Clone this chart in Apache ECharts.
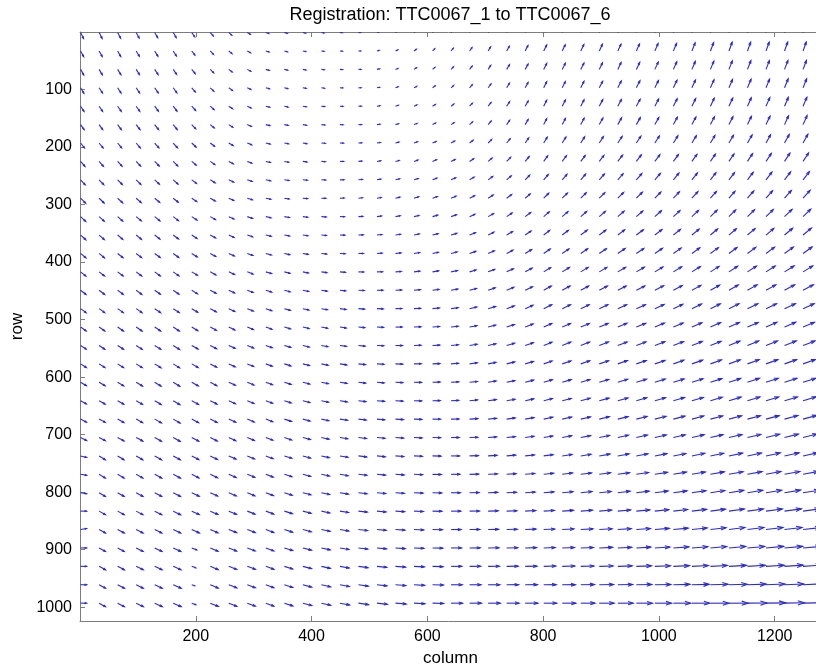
<!DOCTYPE html>
<html><head><meta charset="utf-8">
<script src="https://cdn.jsdelivr.net/npm/echarts@6/dist/echarts.min.js"></script>
<style>html,body{margin:0;padding:0;background:#fff}#c{width:816px;height:665px}</style>
</head><body><div id="c"></div>
<script>
const titleText = 'Registration: TTC0067_1 to TTC0067_6';
const xName = 'column';
const yName = 'row';
const colPositions = [1,33,65,97,129,161,193,225,257,289,321,353,385,417,449,481,513,545,577,609,641,673,705,737,769,801,833,865,897,929,961,993,1025,1057,1089,1121,1153,1185,1217,1249];
const rowPositions = [1,33,65,97,129,161,193,225,257,289,321,353,385,417,449,481,513,545,577,609,641,673,705,737,769,801,833,865,897,929,961,993];
const xTicks = [200,400,600,800,1000,1200];
const yTicks = [100,200,300,400,500,600,700,800,900,1000];
// displacement along columns (u), one row of the grid per line
const uRows = [
[3,3,3,3,3,3,3,3,3,3,3,2.8,2.6,2.4,2.2,2,2,2,2,2,2,2.2,2.4,2.6,2.8,3,3,3,3,3,3,3,3,3,3,3,3,3,3,3],
[3.1,3.1,3.1,3.2,3.2,3.2,3.2,3.2,3.2,3.2,3.2,3,2.8,2.6,2.4,2.2,2.2,2.2,2.2,2.2,2.2,2.4,2.5,2.7,2.8,3,3,3.1,3.1,3.2,3.2,3.2,3.2,3.2,3.2,3.2,3.2,3.2,3.2,3.2],
[3.2,3.2,3.3,3.3,3.4,3.4,3.4,3.4,3.4,3.4,3.4,3.2,3,2.8,2.6,2.4,2.4,2.4,2.4,2.4,2.4,2.5,2.6,2.8,2.9,3,3.1,3.2,3.2,3.3,3.4,3.4,3.4,3.4,3.4,3.4,3.4,3.4,3.4,3.4],
[3.3,3.4,3.4,3.5,3.5,3.6,3.6,3.6,3.6,3.6,3.6,3.4,3.2,3,2.8,2.6,2.6,2.6,2.6,2.6,2.6,2.7,2.8,2.8,2.9,3,3.1,3.2,3.4,3.5,3.6,3.6,3.6,3.6,3.6,3.6,3.6,3.6,3.6,3.6],
[3.4,3.5,3.6,3.6,3.7,3.8,3.8,3.8,3.8,3.8,3.8,3.6,3.4,3.2,3,2.8,2.8,2.8,2.8,2.8,2.8,2.8,2.9,2.9,3,3,3.2,3.3,3.5,3.6,3.8,3.8,3.8,3.8,3.8,3.8,3.8,3.8,3.8,3.8],
[3.5,3.6,3.7,3.8,3.9,4,4,4,4,4,4,3.8,3.6,3.4,3.2,3,3,3,3,3,3,3,3,3,3,3,3.2,3.4,3.6,3.8,4,4,4,4,4,4,4,4,4,4],
[3.9,4,4,4.1,4.2,4.3,4.3,4.3,4.3,4.3,4.3,4.1,3.9,3.7,3.5,3.3,3.3,3.4,3.4,3.5,3.5,3.5,3.5,3.5,3.5,3.5,3.7,3.9,4.1,4.3,4.5,4.5,4.5,4.5,4.5,4.5,4.6,4.6,4.7,4.8],
[4.3,4.3,4.4,4.4,4.5,4.5,4.5,4.5,4.5,4.5,4.5,4.3,4.1,3.9,3.7,3.5,3.6,3.7,3.8,3.9,4,4,4,4,4,4,4.2,4.4,4.6,4.8,5,5,5,5,5,5,5.1,5.3,5.4,5.5],
[4.6,4.6,4.7,4.7,4.7,4.8,4.8,4.8,4.8,4.8,4.8,4.6,4.4,4.2,4,3.8,3.9,4.1,4.2,4.4,4.5,4.5,4.5,4.5,4.5,4.5,4.7,4.9,5.1,5.3,5.5,5.5,5.5,5.5,5.5,5.5,5.7,5.9,6.1,6.3],
[5,5,5,5,5,5,5,5,5,5,5,4.8,4.6,4.4,4.2,4,4.2,4.4,4.6,4.8,5,5,5,5,5,5,5.2,5.4,5.6,5.8,6,6,6,6,6,6,6.3,6.5,6.8,7],
[5.1,5.1,5.1,5.2,5.2,5.2,5.2,5.2,5.2,5.2,5.2,5,4.8,4.7,4.5,4.3,4.5,4.7,4.9,5.1,5.3,5.3,5.4,5.4,5.5,5.5,5.7,5.9,6.1,6.3,6.5,6.5,6.6,6.6,6.7,6.7,7,7.2,7.5,7.7],
[5.2,5.2,5.2,5.3,5.3,5.3,5.3,5.3,5.3,5.3,5.3,5.2,5.1,4.9,4.8,4.7,4.9,5.1,5.3,5.5,5.7,5.8,5.8,5.9,5.9,6,6.2,6.4,6.6,6.8,7,7.1,7.1,7.2,7.2,7.3,7.6,7.8,8.1,8.3],
[5.3,5.3,5.4,5.4,5.5,5.5,5.5,5.5,5.5,5.5,5.5,5.4,5.3,5.2,5.1,5,5.2,5.4,5.6,5.8,6,6.1,6.2,6.3,6.4,6.5,6.7,6.9,7.1,7.3,7.5,7.6,7.7,7.8,7.9,8,8.3,8.5,8.8,9],
[5.3,5.4,5.5,5.5,5.6,5.7,5.7,5.7,5.7,5.7,5.7,5.6,5.5,5.5,5.4,5.3,5.5,5.7,5.9,6.1,6.3,6.4,6.6,6.7,6.9,7,7.2,7.4,7.6,7.8,8,8.1,8.3,8.4,8.6,8.7,9,9.2,9.5,9.7],
[5.4,5.5,5.6,5.6,5.7,5.8,5.8,5.8,5.8,5.8,5.8,5.8,5.8,5.7,5.7,5.7,5.9,6.1,6.3,6.5,6.7,6.9,7,7.2,7.3,7.5,7.7,7.9,8.1,8.3,8.5,8.7,8.8,9,9.1,9.3,9.6,9.8,10.1,10.3],
[5.5,5.6,5.7,5.8,5.9,6,6,6,6,6,6,6,6,6,6,6,6.2,6.4,6.6,6.8,7,7.2,7.4,7.6,7.8,8,8.2,8.4,8.6,8.8,9,9.2,9.4,9.6,9.8,10,10.3,10.5,10.8,11],
[5.6,5.7,5.8,5.9,6,6.1,6.1,6.1,6.1,6.1,6.1,6.1,6.2,6.2,6.3,6.3,6.5,6.6,6.8,6.9,7.1,7.3,7.5,7.7,7.9,8.1,8.3,8.6,8.8,9.1,9.3,9.5,9.7,9.9,10.2,10.4,10.7,10.9,11.2,11.4],
[5.6,5.7,5.9,6,6.2,6.3,6.3,6.3,6.3,6.3,6.3,6.4,6.4,6.5,6.5,6.6,6.7,6.9,7,7.2,7.3,7.5,7.7,7.9,8.1,8.3,8.6,8.8,9.1,9.3,9.6,9.9,10.1,10.4,10.6,10.9,11.2,11.4,11.7,11.9],
[5.7,5.8,6,6.1,6.3,6.4,6.4,6.4,6.4,6.4,6.4,6.5,6.6,6.7,6.8,6.9,7,7.1,7.2,7.3,7.4,7.6,7.8,8,8.2,8.4,8.7,9,9.3,9.6,9.9,10.2,10.5,10.7,11,11.3,11.6,11.8,12.1,12.3],
[5.8,6,6.1,6.3,6.4,6.6,6.6,6.6,6.6,6.6,6.6,6.7,6.8,6.9,7,7.1,7.2,7.3,7.4,7.5,7.6,7.8,8,8.2,8.4,8.6,8.9,9.2,9.5,9.8,10.1,10.4,10.7,11.1,11.4,11.7,12,12.2,12.5,12.7],
[5.8,6,6.2,6.3,6.5,6.7,6.7,6.7,6.7,6.7,6.7,6.8,7,7.1,7.3,7.4,7.5,7.5,7.6,7.6,7.7,7.9,8.1,8.3,8.5,8.7,9,9.4,9.7,10.1,10.4,10.7,11.1,11.4,11.8,12.1,12.4,12.6,12.9,13.1],
[5.9,6.1,6.3,6.5,6.7,6.9,6.9,6.9,6.9,6.9,6.9,7.1,7.2,7.4,7.5,7.7,7.7,7.8,7.8,7.9,7.9,8.1,8.3,8.5,8.7,8.9,9.3,9.6,10,10.3,10.7,11.1,11.5,11.8,12.2,12.6,12.9,13.1,13.4,13.6],
[6,6.2,6.4,6.6,6.8,7,7,7,7,7,7,7.2,7.4,7.6,7.8,8,8,8,8,8,8,8.2,8.4,8.6,8.8,9,9.4,9.8,10.2,10.6,11,11.4,11.8,12.2,12.6,13,13.3,13.5,13.8,14],
[6,6.2,6.4,6.7,6.9,7.1,7.1,7.1,7.2,7.2,7.2,7.4,7.6,7.8,8,8.2,8.2,8.3,8.3,8.4,8.4,8.6,8.8,9,9.2,9.4,9.8,10.3,10.7,11.2,11.6,12,12.4,12.8,13.2,13.6,13.9,14.2,14.5,14.8],
[6,6.2,6.5,6.7,7,7.2,7.2,7.3,7.3,7.4,7.4,7.6,7.8,8,8.2,8.4,8.5,8.6,8.6,8.7,8.8,9,9.2,9.4,9.6,9.8,10.3,10.8,11.2,11.7,12.2,12.6,13,13.4,13.8,14.2,14.6,14.9,15.3,15.6],
[6,6.3,6.5,6.8,7,7.3,7.4,7.4,7.5,7.5,7.6,7.8,8,8.2,8.4,8.6,8.7,8.8,9,9.1,9.2,9.4,9.6,9.8,10,10.2,10.7,11.2,11.8,12.3,12.8,13.2,13.6,14,14.4,14.8,15.2,15.6,16,16.4],
[6,6.3,6.6,6.8,7.1,7.4,7.5,7.6,7.6,7.7,7.8,8,8.2,8.4,8.6,8.8,9,9.1,9.3,9.4,9.6,9.8,10,10.2,10.4,10.6,11.2,11.7,12.3,12.8,13.4,13.8,14.2,14.6,15,15.4,15.9,16.3,16.8,17.2],
[6,6.3,6.6,6.9,7.2,7.5,7.6,7.7,7.8,7.9,8,8.2,8.4,8.6,8.8,9,9.2,9.4,9.6,9.8,10,10.2,10.4,10.6,10.8,11,11.6,12.2,12.8,13.4,14,14.4,14.8,15.2,15.6,16,16.5,17,17.5,18],
[6,6.3,6.6,7,7.3,7.6,5,7.8,7.8,7.9,8,8.3,8.5,8.8,9,9.3,9.5,9.7,9.9,10.2,10.4,10.6,10.8,11.1,11.3,11.5,12.1,12.7,13.3,13.9,14.5,15,15.4,15.9,16.3,16.8,17.2,17.6,18.1,18.5],
[6,6.4,6.7,7.1,7.4,7.8,4,7.9,7.9,8,8,8.3,8.6,8.9,9.2,9.5,9.8,10,10.3,10.5,10.8,11,11.3,11.5,11.8,12,12.6,13.2,13.8,14.4,15,15.5,16,16.5,17,17.5,17.9,18.3,18.6,19],
[6,6.4,6.8,7.1,7.5,7.9,3,8,8,8,8,8.4,8.7,9.1,9.4,9.8,10,10.3,10.6,10.8,11.1,11.4,11.7,11.9,12.2,12.5,13.1,13.7,14.3,14.9,15.5,16.1,16.6,17.2,17.7,18.3,18.6,18.9,19.2,19.5],
[6,6.4,6.8,7.2,7.6,8,4,8,8,8,8,8.4,8.8,9.2,9.6,10,10.3,10.6,10.9,11.2,11.5,11.8,12.1,12.4,12.7,13,13.6,14.2,14.8,15.4,16,16.6,17.2,17.8,18.4,19,19.3,19.5,19.8,20]
];
// displacement along rows (v), one row of the grid per line
const vRows = [
[6,5.8,5.6,5.4,5.2,5,4.2,3.4,2.6,1.8,1,0.8,0.6,0.4,0.2,0,-0.6,-1.2,-1.8,-2.4,-3,-3.6,-4.2,-4.8,-5.4,-6,-6.2,-6.4,-6.6,-6.8,-7,-7.4,-7.8,-8.2,-8.6,-9,-9,-9,-9,-9],
[5.8,5.6,5.5,5.3,5.2,5,4.2,3.4,2.6,1.8,1,0.8,0.6,0.4,0.2,0,-0.6,-1.1,-1.7,-2.2,-2.8,-3.4,-4.1,-4.7,-5.4,-6,-6.2,-6.4,-6.6,-6.8,-7,-7.4,-7.7,-8.1,-8.4,-8.8,-8.9,-8.9,-9,-9],
[5.6,5.5,5.4,5.2,5.1,5,4.2,3.4,2.6,1.8,1,0.8,0.6,0.4,0.2,0,-0.5,-1,-1.6,-2.1,-2.6,-3.3,-4,-4.6,-5.3,-6,-6.2,-6.4,-6.6,-6.8,-7,-7.3,-7.6,-8,-8.3,-8.6,-8.7,-8.8,-8.9,-9],
[5.4,5.3,5.2,5.2,5.1,5,4.2,3.4,2.6,1.8,1,0.8,0.6,0.4,0.2,0,-0.5,-1,-1.4,-1.9,-2.4,-3.1,-3.8,-4.6,-5.3,-6,-6.2,-6.4,-6.6,-6.8,-7,-7.3,-7.6,-7.8,-8.1,-8.4,-8.6,-8.7,-8.9,-9],
[5.2,5.2,5.1,5.1,5,5,4.2,3.4,2.6,1.8,1,0.8,0.6,0.4,0.2,0,-0.4,-0.9,-1.3,-1.8,-2.2,-3,-3.7,-4.5,-5.2,-6,-6.2,-6.4,-6.6,-6.8,-7,-7.2,-7.5,-7.7,-8,-8.2,-8.4,-8.6,-8.8,-9],
[5,5,5,5,5,5,4.2,3.4,2.6,1.8,1,0.8,0.6,0.4,0.2,0,-0.4,-0.8,-1.2,-1.6,-2,-2.8,-3.6,-4.4,-5.2,-6,-6.2,-6.4,-6.6,-6.8,-7,-7.2,-7.4,-7.6,-7.8,-8,-8.3,-8.5,-8.8,-9],
[5,5,4.9,4.9,4.8,4.8,4,3.3,2.5,1.8,1,0.8,0.6,0.3,0.1,-0.1,-0.5,-0.9,-1.2,-1.6,-2,-2.8,-3.5,-4.3,-5,-5.8,-6,-6.2,-6.4,-6.6,-6.8,-7,-7.2,-7.4,-7.6,-7.8,-8,-8.3,-8.5,-8.8],
[5,4.9,4.8,4.7,4.6,4.5,3.8,3.1,2.4,1.7,1,0.8,0.5,0.3,0,-0.3,-0.6,-1,-1.3,-1.7,-2,-2.7,-3.4,-4.1,-4.8,-5.5,-5.7,-5.9,-6.1,-6.3,-6.5,-6.7,-6.9,-7.1,-7.3,-7.5,-7.8,-8,-8.3,-8.5],
[5,4.9,4.7,4.6,4.4,4.3,3.6,3,2.3,1.7,1,0.7,0.4,0.2,-0.1,-0.4,-0.7,-1,-1.4,-1.7,-2,-2.7,-3.3,-4,-4.6,-5.3,-5.5,-5.7,-5.9,-6.1,-6.3,-6.5,-6.7,-6.9,-7.1,-7.3,-7.5,-7.8,-8,-8.3],
[5,4.8,4.6,4.4,4.2,4,3.4,2.8,2.2,1.6,1,0.7,0.4,0.1,-0.2,-0.5,-0.8,-1.1,-1.4,-1.7,-2,-2.6,-3.2,-3.8,-4.4,-5,-5.2,-5.4,-5.6,-5.8,-6,-6.2,-6.4,-6.6,-6.8,-7,-7.3,-7.5,-7.8,-8],
[4.8,4.6,4.5,4.3,4.2,4,3.4,2.9,2.3,1.8,1.2,0.9,0.6,0.3,0,-0.3,-0.6,-0.9,-1.2,-1.5,-1.8,-2.4,-3,-3.6,-4.2,-4.8,-5,-5.2,-5.3,-5.5,-5.7,-5.9,-6.1,-6.3,-6.5,-6.7,-6.9,-7.1,-7.3,-7.5],
[4.7,4.6,4.4,4.3,4.1,4,3.5,2.9,2.4,1.8,1.3,1,0.7,0.4,0.1,-0.2,-0.5,-0.8,-1.1,-1.4,-1.7,-2.3,-2.9,-3.5,-4.1,-4.7,-4.8,-4.9,-5.1,-5.2,-5.3,-5.5,-5.7,-5.9,-6.1,-6.3,-6.5,-6.7,-6.8,-7],
[4.5,4.4,4.3,4.2,4.1,4,3.5,3,2.5,2,1.5,1.2,0.9,0.6,0.3,0,-0.3,-0.6,-0.9,-1.2,-1.5,-2.1,-2.7,-3.3,-3.9,-4.5,-4.6,-4.7,-4.8,-4.9,-5,-5.2,-5.4,-5.6,-5.8,-6,-6.1,-6.3,-6.4,-6.5],
[4.3,4.2,4.2,4.1,4.1,4,3.5,3.1,2.6,2.2,1.7,1.4,1.1,0.8,0.5,0.2,-0.1,-0.4,-0.7,-1,-1.3,-1.9,-2.5,-3.1,-3.7,-4.3,-4.4,-4.5,-4.5,-4.6,-4.7,-4.9,-5.1,-5.3,-5.5,-5.7,-5.8,-5.9,-5.9,-6],
[4.2,4.2,4.1,4.1,4,4,3.6,3.1,2.7,2.2,1.8,1.5,1.2,0.9,0.6,0.3,0,-0.3,-0.6,-0.9,-1.2,-1.8,-2.4,-3,-3.6,-4.2,-4.2,-4.2,-4.3,-4.3,-4.3,-4.5,-4.7,-4.9,-5.1,-5.3,-5.4,-5.4,-5.5,-5.5],
[4,4,4,4,4,4,3.6,3.2,2.8,2.4,2,1.7,1.4,1.1,0.8,0.5,0.2,-0.1,-0.4,-0.7,-1,-1.6,-2.2,-2.8,-3.4,-4,-4,-4,-4,-4,-4,-4.2,-4.4,-4.6,-4.8,-5,-5,-5,-5,-5],
[3.9,3.9,4,4,4,4,3.6,3.3,2.9,2.5,2.1,1.8,1.5,1.2,0.9,0.6,0.3,0,-0.3,-0.6,-0.9,-1.4,-2,-2.5,-3.1,-3.6,-3.6,-3.7,-3.7,-3.8,-3.8,-4,-4.2,-4.3,-4.5,-4.7,-4.7,-4.8,-4.8,-4.8],
[3.7,3.8,3.8,3.9,3.9,4,3.6,3.3,2.9,2.6,2.2,1.9,1.6,1.2,0.9,0.6,0.3,0.1,-0.2,-0.4,-0.7,-1.2,-1.7,-2.3,-2.8,-3.3,-3.4,-3.4,-3.5,-3.5,-3.6,-3.8,-3.9,-4.1,-4.2,-4.4,-4.5,-4.5,-4.6,-4.6],
[3.6,3.7,3.8,3.8,3.9,4,3.7,3.3,3,2.6,2.3,2,1.6,1.3,1,0.7,0.4,0.2,-0.1,-0.3,-0.6,-1.1,-1.5,-2,-2.4,-2.9,-3,-3.1,-3.2,-3.3,-3.4,-3.5,-3.7,-3.8,-4,-4.1,-4.2,-4.3,-4.3,-4.4],
[3.4,3.5,3.6,3.8,3.9,4,3.7,3.4,3,2.7,2.4,2.1,1.7,1.4,1.1,0.8,0.6,0.3,0.1,-0.2,-0.4,-0.8,-1.3,-1.7,-2.2,-2.6,-2.7,-2.8,-2.9,-3,-3.1,-3.3,-3.4,-3.6,-3.7,-3.9,-4,-4,-4.1,-4.1],
[3.3,3.4,3.6,3.7,3.9,4,3.7,3.4,3.1,2.8,2.5,2.2,1.9,1.5,1.2,0.9,0.7,0.4,0.2,-0.1,-0.3,-0.7,-1.1,-1.4,-1.8,-2.2,-2.3,-2.5,-2.6,-2.8,-2.9,-3,-3.2,-3.3,-3.5,-3.6,-3.7,-3.8,-3.8,-3.9],
[3.1,3.3,3.5,3.6,3.8,4,3.7,3.4,3.2,2.9,2.6,2.3,1.9,1.6,1.2,0.9,0.7,0.5,0.3,0.1,-0.1,-0.5,-0.8,-1.2,-1.5,-1.9,-2.1,-2.2,-2.4,-2.5,-2.7,-2.8,-3,-3.1,-3.2,-3.3,-3.4,-3.5,-3.6,-3.7],
[3,3.2,3.4,3.6,3.8,4,3.7,3.5,3.2,3,2.7,2.4,2,1.7,1.3,1,0.8,0.6,0.4,0.2,0,-0.3,-0.6,-0.9,-1.2,-1.5,-1.7,-1.9,-2.1,-2.3,-2.5,-2.6,-2.7,-2.8,-2.9,-3,-3.1,-3.3,-3.4,-3.5],
[1.5,3.9,3.9,3.9,3.9,3.9,3.7,3.5,3.2,3,2.8,2.4,2.1,1.7,1.4,1,0.8,0.6,0.4,0.2,0,-0.3,-0.5,-0.8,-1,-1.3,-1.5,-1.7,-1.8,-2,-2.2,-2.3,-2.4,-2.6,-2.7,-2.8,-2.9,-3,-3.1,-3.2],
[1,3.8,3.8,3.8,3.8,3.8,3.6,3.4,3.2,3,2.8,2.4,2.1,1.7,1.4,1,0.8,0.6,0.4,0.2,0,-0.2,-0.4,-0.7,-0.9,-1.1,-1.3,-1.4,-1.6,-1.7,-1.9,-2,-2.2,-2.3,-2.5,-2.6,-2.7,-2.8,-2.8,-2.9],
[1,3.7,3.7,3.7,3.7,3.7,3.5,3.4,3.2,3.1,2.9,2.5,2.1,1.8,1.4,1,0.8,0.6,0.4,0.2,0,-0.2,-0.4,-0.5,-0.7,-0.9,-1,-1.2,-1.3,-1.5,-1.6,-1.8,-1.9,-2.1,-2.2,-2.4,-2.5,-2.5,-2.6,-2.6],
[0,3.6,3.6,3.6,3.6,3.6,3.5,3.3,3.2,3,2.9,2.5,2.1,1.8,1.4,1,0.8,0.6,0.4,0.2,0,-0.1,-0.3,-0.4,-0.6,-0.7,-0.8,-0.9,-1.1,-1.2,-1.3,-1.5,-1.7,-1.8,-2,-2.2,-2.2,-2.2,-2.3,-2.3],
[-1,3.5,3.5,3.5,3.5,3.5,3.4,3.3,3.1,3,3,2.6,2.2,1.8,1.4,1,0.8,0.6,0.4,0.2,0,-0.1,-0.2,-0.3,-0.4,-0.5,-0.6,-0.7,-0.8,-0.9,-1,-1.2,-1.4,-1.6,-1.8,-2,-2,-2,-2,-2],
[0,3.5,3.5,3.5,3.5,3.5,2,3.3,3.1,3,3,2.6,2.2,1.9,1.5,1.1,0.9,0.7,0.4,0.2,0,-0.1,-0.2,-0.2,-0.3,-0.4,-0.5,-0.5,-0.6,-0.7,-0.8,-0.9,-1.1,-1.2,-1.4,-1.5,-1.5,-1.6,-1.6,-1.6],
[0,3.5,3.5,3.5,3.5,3.5,1.5,3.3,3.1,3,3,2.7,2.3,2,1.6,1.3,1,0.8,0.5,0.3,0,-0.1,-0.1,-0.2,-0.2,-0.3,-0.3,-0.4,-0.4,-0.5,-0.5,-0.6,-0.7,-0.8,-0.9,-1,-1.1,-1.1,-1.2,-1.3],
[0,3.5,3.5,3.5,3.5,3.5,1,3.3,3.1,3,3,2.7,2.4,2,1.7,1.4,1.1,0.8,0.6,0.3,0,0,0,-0.1,-0.1,-0.1,-0.1,-0.2,-0.2,-0.2,-0.3,-0.3,-0.4,-0.4,-0.5,-0.5,-0.6,-0.7,-0.8,-0.9],
[0,3.5,3.5,3.5,3.5,3.5,1.5,3.3,3.1,3,3,2.7,2.4,2.1,1.8,1.5,1.2,0.9,0.6,0.3,0,0,0,0,0,0,0,0,0,0,0,0,0,0,0,0,-0.1,-0.3,-0.4,-0.5]
];
const arrowScale = 1.73;   // quiver autoscale factor (display only)
const headLen = 0.33, headWidth = 0.33;
const arrowColor = '#2a2ad2';
const axisColor = '#7d7d7d';
const fontFamily = 'Liberation Sans, Arial, sans-serif';

const data = [];
rowPositions.forEach((r, j) => {
  colPositions.forEach((c, k) => {
    data.push([c, r, uRows[j][k], vRows[j][k]]);
  });
});

const chart = echarts.init(document.getElementById('c'), null, {renderer: 'canvas'});

function tickFmt(list) { return v => (list.indexOf(v) >= 0 ? String(v) : ''); }

function axisStyle() {
  return {
    axisLine: {show: true, onZero: false, lineStyle: {color: axisColor, width: 1}},
    axisTick: {show: true, inside: true, length: 5, lineStyle: {color: axisColor, width: 1}},
    splitLine: {show: false}
  };
}

chart.setOption({
  animation: false,
  backgroundColor: '#ffffff',
  graphic: [{
    type: 'text', x: 450, y: 15,
    style: {text: titleText, fill: '#000', font: '18px ' + fontFamily,
            align: 'center', verticalAlign: 'middle', textAlign: 'center', textVerticalAlign: 'middle'}
  }],
  grid: {left: 80, top: 32, width: 741, height: 589, containLabel: false, outerBoundsMode: 'none'},
  xAxis: [
    Object.assign(axisStyle(), {
      type: 'value', position: 'bottom', min: 0, max: 1280, interval: 200,
      name: xName, nameLocation: 'middle', nameGap: 26,
      nameTextStyle: {fontSize: 17, color: '#000', fontFamily: fontFamily},
      axisLabel: {show: true, margin: 8, color: '#000', fontSize: 16, fontFamily: fontFamily, formatter: tickFmt(xTicks)}
    }),
    Object.assign(axisStyle(), {
      type: 'value', position: 'top', min: 0, max: 1280, interval: 200,
      axisLabel: {show: false}
    })
  ],
  yAxis: [
    Object.assign(axisStyle(), {
      type: 'value', position: 'left', inverse: true, min: 0, max: 1024, interval: 100,
      name: yName, nameLocation: 'middle', nameGap: 43,
      nameTextStyle: {fontSize: 17, color: '#000', fontFamily: fontFamily},
      axisLabel: {show: true, margin: 8, color: '#000', fontSize: 16, fontFamily: fontFamily, formatter: tickFmt(yTicks)}
    }),
    Object.assign(axisStyle(), {
      type: 'value', position: 'right', inverse: true, min: 0, max: 1024, interval: 100,
      axisLabel: {show: false}
    })
  ],
  series: [{
    type: 'custom',
    xAxisIndex: 0, yAxisIndex: 0,
    clip: true,
    encode: {x: 0, y: 1},
    data: data,
    renderItem: function (params, api) {
      const x = api.value(0), y = api.value(1);
      const u = api.value(2) * arrowScale, v = api.value(3) * arrowScale;
      const p0 = api.coord([x, y]);
      const p1 = api.coord([x + u, y + v]);
      const h1 = api.coord([x + u - headLen * (u + headWidth * v), y + v - headLen * (v - headWidth * u)]);
      const h2 = api.coord([x + u - headLen * (u - headWidth * v), y + v - headLen * (v + headWidth * u)]);
      const st = {stroke: arrowColor, lineWidth: 1.1, fill: null};
      return {
        type: 'group',
        children: [
          {type: 'polyline', shape: {points: [p0, p1]}, style: st},
          {type: 'polyline', shape: {points: [h1, p1, h2]}, style: st}
        ]
      };
    }
  }]
});
</script>
</body></html>
